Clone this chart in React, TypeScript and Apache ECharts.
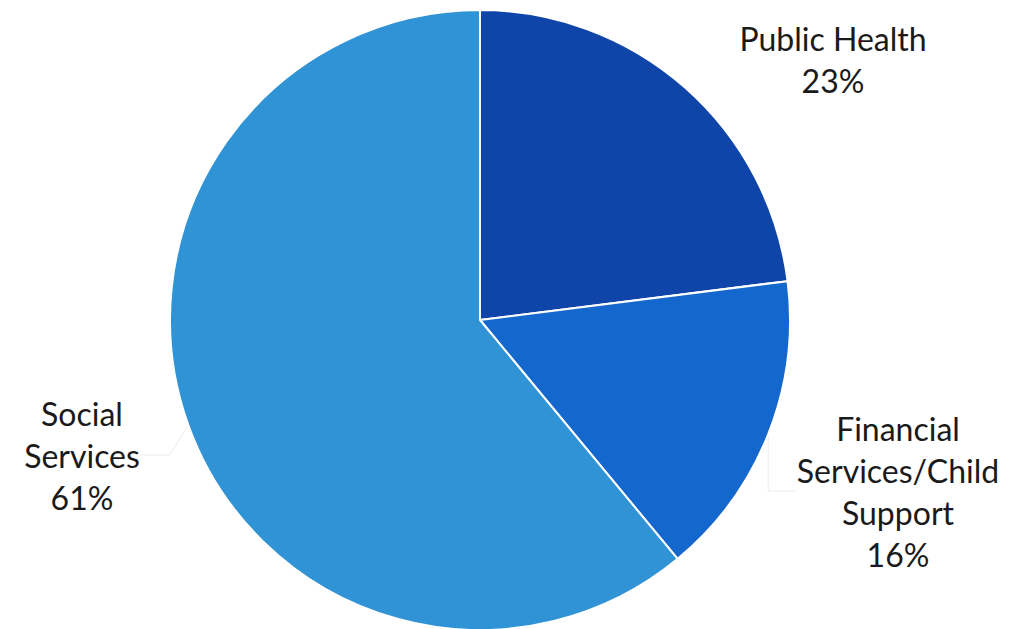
import React, { useEffect, useRef } from "react";
import * as echarts from "echarts";

const categories = ["Public Health", "Financial\nServices/Child\nSupport", "Social\nServices"];
const values = [23, 16, 61];
const colors = ["#0F45A8", "#1467CC", "#2F93D5"];
const labelPos = [
  { x: 833, y: 59 },
  { x: 898, y: 491 },
  { x: 82, y: 455 },
];
const showLeader = [false, true, true];

export default function App() {
  const ref = useRef<HTMLDivElement>(null);
  useEffect(() => {
    const chart = echarts.init(ref.current!, null, { renderer: "svg" });
    chart.setOption({
      animation: false,
      series: [
        {
          type: "pie",
          center: [480, 320],
          radius: 310,
          startAngle: 90,
          clockwise: true,
          data: categories.map((name, i) => ({
            name,
            value: values[i],
            itemStyle: { color: colors[i] },
            labelLine: { show: showLeader[i] },
          })),
          itemStyle: { borderColor: "#ffffff", borderWidth: 2 },
          label: {
            show: true,
            position: "outside",
            formatter: (p: any) => `${p.name}\n${p.value}%`,
            fontFamily: "Lato",
            fontSize: 32,
            lineHeight: 42,
            color: "#1a1a1a",
            align: "center",
            overflow: "none",
            edgeDistance: 0,
          },
          labelLine: { show: true, lineStyle: { color: "#ececec", width: 1 } },
          labelLayout: (params: any) => {
            const p = labelPos[params.dataIndex];
            return { x: p.x, y: p.y, align: "center", verticalAlign: "middle" };
          },
        },
      ],
    });
    return () => chart.dispose();
  }, []);
  return <div ref={ref} style={{ width: 1027, height: 629, position: "absolute", left: 0, top: 0 }} />;
}
